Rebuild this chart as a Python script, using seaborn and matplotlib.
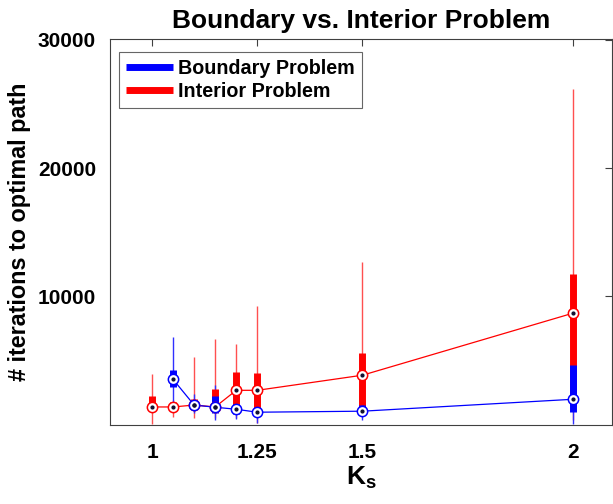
import numpy as np
import pandas as pd
import seaborn as sns
import matplotlib.pyplot as plt
from matplotlib.lines import Line2D

# Ks values (x positions) and box statistics
ks_interior = [1.0, 1.05, 1.1, 1.15, 1.2, 1.25, 1.5, 2.0]
int_lo = [0, 550, 470, 470, 450, 100, 700, 300]
int_q1 = [1200, 1200, 1170, 1100, 1100, 860, 1300, 1500]
int_med = [1350, 1350, 1500, 1350, 2650, 2650, 3830, 8670]
int_q3 = [2200, 1700, 1950, 2750, 4050, 4000, 5550, 11700]
int_hi = [3900, 1900, 5250, 6650, 6250, 9200, 12650, 26170]

ks_boundary = [1.05, 1.1, 1.15, 1.2, 1.25, 1.5, 2.0]
bnd_lo = [1300, 860, 300, 400, 100, 300, 0]
bnd_q1 = [2900, 1300, 900, 800, 700, 700, 940]
bnd_med = [3500, 1500, 1330, 1170, 940, 1020, 1950]
bnd_q3 = [4200, 1700, 2200, 1600, 1300, 1500, 4600]
bnd_hi = [6800, 2400, 3050, 2100, 2000, 4850, 11400]

xtick_vals = [1, 1.25, 1.5, 2]
xtick_labels = ["1", "1.25", "1.5", "2"]
ytick_vals = [10000, 20000, 30000]

sns.set_theme(style="white")
plt.rcParams["font.family"] = ["Liberation Sans", "DejaVu Sans"]
plt.rcParams["mathtext.fontset"] = "custom"
plt.rcParams["mathtext.bf"] = "Liberation Sans:bold"
plt.rcParams["mathtext.rm"] = "Liberation Sans"
plt.rcParams["text.color"] = "black"
plt.rcParams["axes.labelcolor"] = "black"

fig = plt.figure(figsize=(6.13, 5.04), dpi=100)
ax = fig.add_axes([0.1794, 0.1567, 0.819, 0.766])


def draw_series(ax, ks, lo, q1, med, q3, hi, color, whisker_color):
    df = pd.DataFrame({"Ks": ks, "lo": lo, "q1": q1, "med": med, "q3": q3, "hi": hi})
    ax.vlines(df["Ks"], df["lo"], df["hi"], color=whisker_color, lw=1.0, zorder=2)
    ax.vlines(df["Ks"], df["q1"], df["q3"], color=color, lw=5, zorder=3)
    sns.lineplot(data=df, x="Ks", y="med", color=color, lw=0.9, ax=ax,
                 zorder=4, legend=False)
    ax.scatter(df["Ks"], df["med"], s=55, facecolor="white", edgecolor=color,
               lw=1.1, zorder=5)
    ax.scatter(df["Ks"], df["med"], s=4, color="#101030", zorder=6)


draw_series(ax, ks_interior, int_lo, int_q1, int_med, int_q3, int_hi,
            "#ff0000", "#ff5050")
draw_series(ax, ks_boundary, bnd_lo, bnd_q1, bnd_med, bnd_q3, bnd_hi,
            "#0000ff", "#3030ff")

ax.set_xlim(0.900, 2.093)
ax.set_ylim(-60, 30080)
ax.set_xticks(xtick_vals)
ax.set_xticklabels(xtick_labels)
ax.set_yticks(ytick_vals)
ax.tick_params(direction="in", length=5, width=0.8, color="#404040",
               labelcolor="black", top=True, right=True, labelsize=15)
ax.tick_params(axis="x", pad=13)
ax.tick_params(axis="y", pad=10)
for lab in ax.get_xticklabels() + ax.get_yticklabels():
    lab.set_fontweight("bold")
for sp in ax.spines.values():
    sp.set_color("#404040")
    sp.set_linewidth(0.8)

ax.set_title("Boundary vs. Interior Problem", fontsize=19, fontweight="bold", pad=8)
ax.set_ylabel("# iterations to optimal path", fontsize=16.8, fontweight="bold", labelpad=5)
ax.set_xlabel("K$_\\mathbf{s}$", fontsize=19, fontweight="bold", labelpad=2)

handles = [Line2D([], [], color="#0000ff", lw=5, solid_capstyle="butt"),
           Line2D([], [], color="#ff0000", lw=5, solid_capstyle="butt")]
leg = ax.legend(handles, ["Boundary Problem", "Interior Problem"], loc="upper left",
                prop={"weight": "bold", "size": 14.2}, frameon=True, fancybox=False,
                edgecolor="#404040", handlelength=2.4, handletextpad=0.25,
                borderpad=0.35, labelspacing=0.2, borderaxespad=0,
                bbox_to_anchor=(0.018, 0.966))
leg.get_frame().set_linewidth(0.8)

fig.savefig("out.png", dpi=100)
